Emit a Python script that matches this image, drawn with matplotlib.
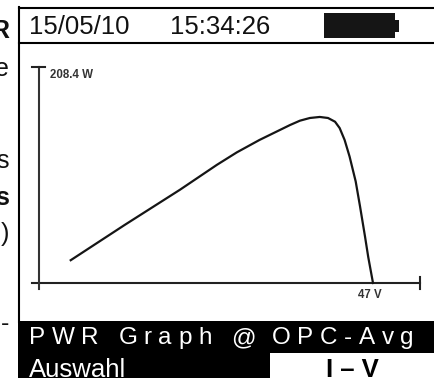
import matplotlib
matplotlib.use("Agg")
import matplotlib.pyplot as plt
from matplotlib.patches import Rectangle
from matplotlib.textpath import TextPath
from matplotlib.font_manager import FontProperties

plt.rcParams['font.family'] = ['Liberation Sans', 'DejaVu Sans']

volts = [4.4, 12.0, 19.8, 25.0, 27.8, 31.0, 35.3, 36.7, 38.1, 39.5, 40.66, 41.65, 42.3,
         43.0, 43.7, 44.56, 45.17, 45.87, 46.33, 47.0]
power = [22, 56, 90, 114, 126, 138, 152.4, 156.6, 159.2, 160.2, 159.2, 155.6, 149.5,
         138, 122, 98, 74, 45, 25, 0]
v_max_label = "47 V"
p_max_label = "208.4 W"
p_top = 208.4
v_top = 53.0
header_date = "15/05/10"
header_time = "15:34:26"
title_parts = ["PWR Graph", "@", "OPC-Avg"]
softkey_left = "Auswahl"
softkey_right = "I – V"

W, H = 434, 378
fig = plt.figure(figsize=(W / 100, H / 100), dpi=100, facecolor='white')
bg = fig.add_axes([0, 0, 1, 1])
bg.set_xlim(0, W); bg.set_ylim(H, 0); bg.axis('off')


def tracked(text, x_left, x_right, y, size):
    """Draw text letter by letter so that it spans x_left..x_right."""
    fp = FontProperties(family='Liberation Sans', size=size)
    k = 100 / 72
    adv = [TextPath((0, 0), c + "|", prop=fp).get_extents().x1 * k
           - TextPath((0, 0), "|", prop=fp).get_extents().x1 * k for c in text]
    if len(text) > 1:
        gap = (x_right - x_left - sum(adv)) / (len(text) - 1)
    else:
        gap = 0
    x = x_left
    for c, a in zip(text, adv):
        bg.text(x, y, c, fontproperties=fp, va='baseline', ha='left', color='white')
        x += a + gap


bg.plot([19, 19], [7, 322], color='black', lw=1.5)
bg.plot([19, 434], [7.7, 7.7], color='black', lw=1.5)
bg.plot([19, 434], [43.3, 43.3], color='black', lw=1.5)
bg.add_patch(Rectangle((18, 320.5), 416, 58, color='black', lw=0))
bg.add_patch(Rectangle((270, 352.5), 164, 26, color='white', lw=0))
bg.add_patch(Rectangle((324, 13), 71, 25, color='#151515', lw=0))
bg.add_patch(Rectangle((395, 20), 4, 12, color='#151515', lw=0))

bg.text(29, 33.5, header_date, fontsize=18.5, va='baseline', color='#111111')
bg.text(170, 33.5, header_time, fontsize=18.5, va='baseline', color='#111111')
bg.text(50, 75.5, p_max_label, fontsize=8.3, weight='bold', va='center', color='#333333')
tracked(title_parts[0], 29, 212, 344, 17.5)
tracked(title_parts[1], 231, 253, 344, 17.5)
tracked(title_parts[2], 272, 414, 344, 17.5)
bg.text(29, 377, softkey_left, fontsize=18.5, va='baseline', color='white')
bg.text(352, 377, softkey_right, fontsize=18.5, weight='bold', va='baseline', ha='center', color='black')

for s, y, w in [("R", 38, 'bold'), ("e", 76, 'normal'), ("s", 168, 'normal'),
                ("s", 205, 'bold'), (")", 241, 'normal'), ("-", 331, 'normal')]:
    bg.text(9, y, s, fontsize=18, weight=w, va='baseline', ha='right', color='#111111')

# data axes: origin at pixel (39.5, 283), top of y at pixel 67
x0, y0, y1 = 39.5, 283.0, 67.0
x1 = x0 + v_top * (373 - x0) / 47
ax = fig.add_axes([x0 / W, 1 - y0 / H, (x1 - x0) / W, (y0 - y1) / H])
ax.patch.set_alpha(0)
ax.set_xlim(0, v_top); ax.set_ylim(0, p_top)
for s in ax.spines.values():
    s.set_visible(False)
ax.set_xticks([]); ax.set_yticks([])
ax.plot(volts, power, color='#151515', lw=1.6, solid_joinstyle='round', clip_on=False)

bg.plot([32, 420], [283, 283], color='#222222', lw=1.5)
bg.plot([39.3, 39.3], [67, 289], color='#333333', lw=1.5)
bg.plot([32, 45], [67, 67], color='#222222', lw=1.5)
bg.plot([420, 420], [277, 289], color='#222222', lw=1.5)
bg.text(369.5, 295.5, v_max_label, fontsize=8.3, weight='bold', va='center', ha='center', color='#333333')

fig.savefig("out.png", dpi=100)
